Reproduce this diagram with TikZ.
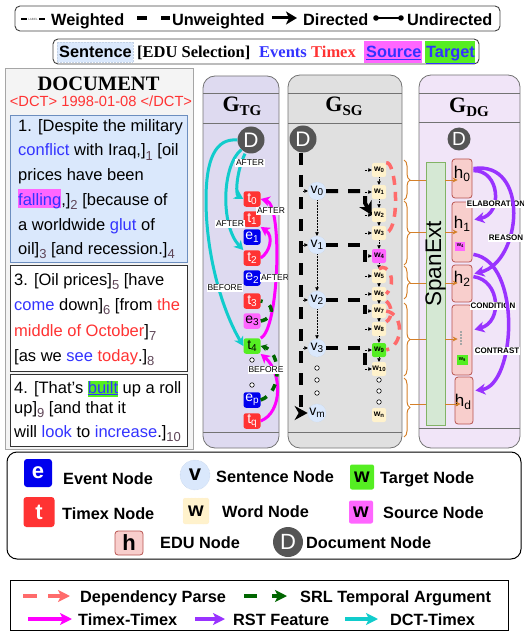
\documentclass[tikz,border=0pt]{standalone}
\usepackage{fontspec}
\setmainfont{Liberation Sans}
\newfontfamily\serifface{Liberation Serif}
\usetikzlibrary{arrows.meta,decorations.pathreplacing,calc}

\definecolor{evblue}{HTML}{3333FF}
\definecolor{txred}{HTML}{FF3333}
\definecolor{subclr}{HTML}{5E4557}
\definecolor{sentbg}{HTML}{DAE8FC}
\definecolor{sentbd}{HTML}{6C8EBF}
\definecolor{srcmag}{HTML}{FF66FF}
\definecolor{tgtgrn}{HTML}{55EE22}
\definecolor{docbg}{HTML}{F4F4F4}
\definecolor{tgbg}{HTML}{DEDAF0}
\definecolor{sgbg}{HTML}{E0E0E0}
\definecolor{dgbg}{HTML}{F1E5F8}
\definecolor{dgray}{HTML}{555555}
\definecolor{tfill}{HTML}{FF3333}
\definecolor{efill}{HTML}{0000EE}
\definecolor{wfill}{HTML}{FFF2CC}
\definecolor{hfill}{HTML}{F8CECC}
\definecolor{hbord}{HTML}{B85450}
\definecolor{spfill}{HTML}{D5E8D4}
\definecolor{spbord}{HTML}{82B366}
\definecolor{brorange}{HTML}{D4802A}
\definecolor{rstpur}{HTML}{9933FF}
\definecolor{dctcyan}{HTML}{11CCCC}
\definecolor{ttmag}{HTML}{FF00FF}
\definecolor{srlgrn}{HTML}{006600}
\definecolor{depred}{HTML}{FF6B6B}

\newcommand\fsz[1]{\fontsize{#1}{#1}\selectfont}
\newcommand\dsub[1]{{\fsz{13}\color{subclr}\raisebox{-4.5pt}{#1}}}
\newcommand\ev[1]{\textcolor{evblue}{#1}}
\newcommand\tx[1]{\textcolor{txred}{#1}}
\newcommand\nsub[1]{\raisebox{-2.5pt}{\fsz{10}#1}}
\newcommand\wsub[1]{\raisebox{-1.5pt}{\fsz{6}#1}}
\newcommand\hsub[1]{\raisebox{-3pt}{\fsz{12}#1}}
\newcommand\gsub[1]{\raisebox{-4pt}{\fsz{15}#1}}
\newcommand\hlbox[2]{{\setlength{\fboxsep}{0pt}\colorbox{#1}{#2}}}

\tikzset{
  txt/.style={inner sep=0pt, anchor=base west},
  doctxt/.style={txt, font=\fsz{16.5}},
  legtxt/.style={txt, font=\fsz{16.3}\bfseries},
  panel/.style={draw=black!55, line width=0.8, rounded corners=12},
  sepline/.style={draw=black!55, line width=0.8},
  tnode/.style={fill=tfill, rounded corners=2.5, minimum width=17, minimum height=15.5, inner sep=0pt, text=white, font=\fsz{14}},
  enode/.style={tnode, fill=efill},
  dnode/.style={circle, fill=dgray, minimum size=27, inner sep=0pt, text=white, font=\fsz{21}},
  vnode/.style={circle, fill=sentbg, draw=sentbd!40, densely dotted, minimum size=18, inner sep=0pt, font=\fsz{14}},
  wnode/.style={fill=wfill, rounded corners=2, minimum width=14, minimum height=14, inner sep=0pt, font=\fsz{8.5}\bfseries},
  hnode/.style={fill=hfill, draw=hbord, line width=0.8, rounded corners=3, minimum width=20, inner sep=0pt},
  dotnode/.style={circle, draw=black, fill=white, line width=0.6, minimum size=4.5, inner sep=0pt},
  rellbl/.style={fill=white, inner sep=1pt, font=\fsz{8.5}},
  rstlbl/.style={fill=white, inner sep=1pt, font=\fsz{8}\bfseries},
  dctarr/.style={draw=dctcyan, line width=3, -{Stealth[length=9pt,width=10pt,inset=2.5pt]}},
  ttarr/.style={draw=ttmag, line width=3, -{Stealth[length=9pt,width=10pt,inset=2.5pt]}},
  srlarr/.style={draw=srlgrn, line width=3.5, dash pattern=on 7pt off 8pt},
  deparc/.style={draw=depred, line width=3.5, dash pattern=on 9pt off 7pt},
  rstarr/.style={draw=rstpur, line width=3.5, -{Stealth[length=10pt,width=11pt,inset=3pt]}},
  bigdash/.style={line width=4, dash pattern=on 12pt off 10pt},
  bigtip/.style={-{Stealth[length=13pt,width=14pt,inset=4pt]}},
  tinyarr/.style={line width=0.5, densely dotted, -{Triangle[length=3.5pt,width=3.5pt]}},
  brc/.style={draw=brorange, line width=1, decorate, decoration={brace, amplitude=6pt}},
  orln/.style={draw=brorange, line width=1},
  legarr/.style={line width=3.5, -{Stealth[length=12pt,width=12pt,inset=3pt]}},
}

\begin{document}
\begin{tikzpicture}[x=1pt, y=-1pt]
\useasboundingbox (0,0) rectangle (524,631);

% ---------- edge-style legend ----------
\draw[rounded corners=5, line width=0.9, draw=black!75] (15,6) rectangle (500,31);
\draw[line width=2.8] (21,19) -- (27,19) (39,19) -- (45,19);
\node[inner sep=0, font=\fsz{3}, text=black!70] (wlab) at (33,19) {LABEL};
\node[legtxt] (lw) at (51,26) {Weighted};
\draw[line width=3.5] (137,18) -- (147,18) (161,18) -- (170,18);
\node[legtxt] (lu) at (172,26) {Unweighted};
\draw[line width=3, -{Stealth[length=11pt,width=13pt,inset=3pt]}] (272,18) -- (297,18);
\node[legtxt] (ld) at (303,26) {Directed};
\draw[line width=2.5] (376,18) -- (401,18);
\fill (376,18) circle (2.8) (401,18) circle (2.8);
\node[legtxt] (lud) at (407,26) {Undirected};

% ---------- text-colour legend ----------
\draw[rounded corners=5, line width=0.9, draw=black!75] (53,39) rectangle (479,64);
\fill[sentbg] (57,42) rectangle (133,62);
\draw[sentbd!40, densely dotted, line width=0.5] (57,42) rectangle (133,62);
\node[legtxt] (ks) at (59,58) {Sentence};
\node[txt, font=\serifface\bfseries\fsz{16.5}] (ke) at (137,58) {[EDU Selection]};
\node[txt, font=\serifface\bfseries\fsz{16.5}, text=evblue] (kev) at (259,58) {Events};
\node[txt, font=\serifface\bfseries\fsz{16.5}, text=txred] (ktx) at (311,58) {Timex};
\fill[srcmag] (364,41) rectangle (422,63);
\fill[tgtgrn] (425,41) rectangle (475,63);
\node[legtxt, text=evblue] (ksrc) at (366,58) {\underline{Source}};
\node[legtxt, text=evblue] (ktgt) at (426,58) {\underline{Target}};

% ---------- document panel ----------
\draw[draw=black!35, fill=docbg, line width=0.8] (5,68) rectangle (193,449);
\node[anchor=base, inner sep=0, font=\serifface\bfseries\fsz{20.5}] (dh) at (98.5,91) {DOCUMENT};
\node[anchor=base, inner sep=0, font=\fsz{14.7}, text=txred] (dct) at (101,106.5) {<DCT> 1998-01-08 </DCT>};
\draw[fill=sentbg, draw=sentbd, line width=0.8] (10,115) rectangle (187,262);
\draw[fill=white, draw=black!80, line width=0.9] (10,265) rectangle (187,371);
\draw[fill=white, draw=black!80, line width=0.9] (10,374) rectangle (187,446);

\node[doctxt] (s1a) at (18,132) {1. [Despite the military};
\node[doctxt] (s1b) at (18,156) {\ev{conflict} with Iraq,]\dsub{1} [oil};
\node[doctxt] (s1c) at (18,181) {prices have been};
\node[doctxt] (s1d) at (18,205) {\hlbox{srcmag}{\rule[-2.5pt]{0pt}{19pt}\ev{falling}},]\dsub{2} [because of};
\node[doctxt] (s1e) at (18,230) {a worldwide \ev{glut} of};
\node[doctxt] (s1f) at (18,254) {oil]\dsub{3} [and recession.]\dsub{4}};

\node[doctxt] (s3a) at (14,285) {3. [Oil prices]\dsub{5} [have};
\node[doctxt] (s3b) at (14,310) {\ev{come} down]\dsub{6} [from \tx{the}};
\node[doctxt] (s3c) at (14,336) {\tx{middle of October}]\dsub{7}};
\node[doctxt] (s3d) at (14,361) {[as we \ev{see} \tx{today}.]\dsub{8}};

\node[doctxt] (s4a) at (14,393) {4. [That's \hlbox{tgtgrn}{\rule[-3.7pt]{0pt}{14pt}\ev{\underline{built}}} up a roll};
\node[doctxt] (s4b) at (14,413) {up]\dsub{9} [and that it};
\node[doctxt] (s4c) at (14,437) {will \ev{look} to \ev{increase}.]\dsub{10}};

% ---------- temporal graph ----------
\draw[panel, fill=tgbg] (203,76) rectangle (279,448);
\draw[sepline] (203,93) -- (279,93) (203,123) -- (279,123) (203,432) -- (279,432);
\node[anchor=base, inner sep=0] (ttg) at (242,112) {\serifface\bfseries\fsz{22}G\gsub{TG}};

\node[dnode] (Dtg) at (251,140) {D};
\node[tnode] (t0) at (252,199) {t\nsub0};
\node[tnode] (t1) at (252,219) {t\nsub1};
\node[enode] (e1) at (252,237) {e\nsub1};
\node[tnode] (t2) at (252,258) {t\nsub2};
\node[enode] (e2) at (252,278) {e\nsub2};
\node[tnode] (t3) at (252,301) {t\nsub3};
\node[enode, fill=srcmag, text=black] (e3) at (252,321) {e\nsub3};
\node[tnode, fill=tgtgrn, text=black] (t4) at (252,346) {t\nsub4};
\node[dotnode] (tgd1) at (252,360) {};
\node[dotnode] (tgd2) at (252,385) {};
\node[enode] (ep) at (252,400) {e\nsub{p}};
\node[tnode] (tq) at (252,421) {t\nsub{q}};

% DCT-Timex links
\draw[dctarr] ($(Dtg.south)+(-6,0)$) .. controls (237,170) and (235,194) .. (t0.west);
\draw[dctarr] (Dtg.south west) .. controls (222,165) and (220,225) .. (t2.north west);
\draw[dctarr] (Dtg.west) .. controls (215,138) and (206,160) .. (206,200) .. controls (206,255) and (222,310) .. (t4.west);
% Timex-Timex links
\draw[ttarr] (t2.east) .. controls (270,252) and (274,236) .. (t1.south east);
\draw[ttarr] (t4.north east) .. controls (279,330) and (283,205) .. (t0.east);
\draw[ttarr] (tq.east) .. controls (283,412) and (282,372) .. (t4.south east);
% SRL temporal arguments
\draw[srlarr] (e3.east) .. controls (276,318) and (274,302) .. (t3.east);
\draw[srlarr, -{Stealth[length=6pt,width=7pt]}] (ep.east) .. controls (283,392) and (281,352) .. (t4.east);

\node[rellbl] (la1) at (250,163) {AFTER};
\node[rellbl] (la2) at (271,211) {AFTER};
\node[rellbl] (la3) at (230,224) {AFTER};
\node[rellbl] (la4) at (275,278) {AFTER};
\node[rellbl] (lb1) at (225,288) {BEFORE};
\node[rellbl] (lb2) at (266,370) {BEFORE};

% ---------- sentence graph ----------
\draw[panel, fill=sgbg] (288,75) rectangle (402,448);
\draw[sepline] (288,93) -- (402,93) (288,123) -- (402,123) (288,432) -- (402,432);
\node[anchor=base, inner sep=0] (tsg) at (344,112) {\serifface\bfseries\fsz{22}G\gsub{SG}};

\node[dnode] (Dsg) at (303,139) {D};
\node[vnode] (v0) at (317,191) {v\nsub0};
\node[vnode] (v1) at (317,245) {v\nsub1};
\node[vnode] (v2) at (317,300) {v\nsub2};
\node[vnode] (v3) at (317,348) {v\nsub3};
\node[dotnode] (vd1) at (317,368) {};
\node[dotnode] (vd2) at (317,380) {};
\node[dotnode] (vd3) at (317,393) {};
\node[vnode] (vm) at (317,413) {v\nsub{m}};

\foreach \i/\y/\c in {0/170/wfill,1/192/wfill,2/215/wfill,3/233/wfill,4/256/srcmag,5/276/wfill,6/294/wfill,7/311/wfill,8/329/wfill,9/350/tgtgrn,10/369/wfill}
  \node[wnode, fill=\c] (w\i) at (379,\y) {w\wsub{\i}};
\node[dotnode] (wd1) at (379,380) {};
\node[dotnode] (wd2) at (379,391) {};
\node[dotnode] (wd3) at (379,402) {};
\node[wnode] (wn) at (379,415) {w\wsub{n}};

\coordinate (trk) at (301,153);
\draw[bigdash, bigtip] (trk) |- (vm.west);
\foreach \v in {v0,v1,v2,v3}
  \draw[tinyarr] ($(\v.west -| trk)+(2,0)$) -- (\v.west);
\draw[tinyarr] (v0) -- (v1);
\draw[tinyarr] (v1) -- (v2);
\draw[tinyarr] (v2) -- (v3);

\coordinate (c0) at (365,203);
\coordinate (c1) at (365,270);
\coordinate (c2) at (365,314);
\coordinate (c3) at (365,370);
\draw[bigdash, bigtip] (v0.east) -| (c0) -- (w2.west);
\draw[bigdash] (v1.east) -| (c1);
\draw[bigdash] (v2.east) -| (c2);
\draw[bigdash] (v3.east) -| (c3);

\foreach \i in {0,...,10}
  \draw[tinyarr] ($(w\i.west)+(-7,0)$) -- (w\i.west);
\foreach \a/\b in {0/1,1/2,2/3,3/4,4/5,5/6,6/7,7/8,8/9,9/10}
  \draw[tinyarr] (w\a) -- (w\b);

% dependency arcs
\draw[deparc] (w0.north east) .. controls (396,160) and (401,228) .. (w3.east);
\draw[deparc] (w5.north) .. controls (388,262) and (398,282) .. (w6.east);
\draw[deparc] (w6.south east) .. controls (392,305) and (393,318) .. (w8.north east);
\draw[deparc] (w7.east) .. controls (404,314) and (404,345) .. (w9.east);

% ---------- EDU braces ----------
\draw[brc] (404,160) -- (404,200);
\draw[brc] (404,201) -- (404,265);
\draw[brc] (404,266) -- (404,299);
\draw[brc] (404,303) -- (404,376);
\draw[brc] (404,378) -- (404,437);

% ---------- discourse graph ----------
\draw[panel, fill=dgbg] (419,75) rectangle (520,448);
\draw[sepline] (419,93) -- (520,93) (419,122) -- (520,122) (419,428) -- (520,428);
\node[anchor=base, inner sep=0] (tdg) at (469,113) {\serifface\bfseries\fsz{22}G\gsub{DG}};
\node[dnode, minimum size=23, font=\fsz{19}] (Ddg) at (459,139) {D};

\node[draw=spbord, fill=spfill, line width=0.8, minimum width=19, minimum height=263, inner sep=0] (span) at (435.5,293.5) {};
\node[rotate=90, inner sep=0, font=\fsz{22.5}] (spantxt) at (435.5,264) {SpanExt};

\node[hnode, minimum height=39] (h0) at (462,178.5) {};
\node[inner sep=0, font=\fsz{17}] (h0t) at (462,174) {h\hsub0};
\node[hnode, minimum height=60] (h1) at (462,232) {};
\node[inner sep=0, font=\fsz{17}] (h1t) at (462,224) {h\hsub1};
\node[fill=srcmag, minimum width=10, minimum height=9, inner sep=0, font=\fsz{5.5}\bfseries] (h1w) at (460,246) {w\raisebox{-1pt}{\fsz{4}4}};
\node[hnode, minimum height=37] (h2) at (462,283.5) {};
\node[inner sep=0, font=\fsz{17}] (h2t) at (462,279) {h\hsub2};
\node[hnode, minimum height=70] (h3) at (462,340) {};
\draw[black!35, line width=1.5, dash pattern=on 1.5pt off 1.5pt] (461,331) -- (461,346);
\node[fill=tgtgrn, minimum width=11, minimum height=10, inner sep=0, font=\fsz{5.5}\bfseries] (h3w) at (462,360) {w\raisebox{-1pt}{\fsz{4}9}};
\node[hnode, minimum width=18, minimum height=47] (hd) at (464,400.5) {};
\node[inner sep=0, font=\fsz{17}] (hdt) at (463,402) {h\hsub{d}};

\foreach \n/\y/\tg in {0/180/h0, 1/232/h1, 2/283/h2, 3/339/h3, 4/404/hd} {
  \coordinate (bt\n) at (410,\y);
  \draw[orln] (bt\n) -- (bt\n -| span.west);
  \draw[orln, -{Stealth[length=5pt,width=5pt]}] (bt\n -| span.east) -- ($(bt\n -| \tg.west)+(6,0)$);
}

% rhetorical relations
\draw[rstarr] ($(h0.north east)+(1,12)$) .. controls (500,170) and (503,214) .. ($(h1.north east)+(2,18)$);
\node[rstlbl] (relab) at (496,204) {ELABORATION};
\draw[rstarr] ($(h0.north east)+(1,10)$) .. controls (530,160) and (522,262) .. ($(h2.north east)+(2,9)$);
\node[rstlbl] (rreas) at (506,238) {REASON};
\draw[rstarr] ($(h2.north east)+(1,12)$) .. controls (500,280) and (503,322) .. ($(h3.north east)+(2,25)$);
\node[rstlbl] (rcond) at (493,306) {CONDITION};
\draw[rstarr] ($(h1.south east)+(1,-8)$) .. controls (522,262) and (516,385) .. ($(hd.east)+(2,-10)$);
\node[rstlbl] (rcont) at (497,351) {CONTRAST};

% ---------- node legend ----------
\draw[rounded corners=10, line width=1] (7,452) rectangle (521,559);
\node[fill=efill, rounded corners=3, minimum size=28, inner sep=0, text=white, font=\fsz{22}\bfseries] (ge) at (38,473) {e};
\node[legtxt] (gel) at (63,484) {Event Node};
\node[circle, fill=sentbg, draw=sentbd!50, densely dotted, minimum size=30, inner sep=0, font=\fsz{22}\bfseries] (gv) at (195,475) {v};
\node[legtxt] (gvl) at (216,482) {Sentence Node};
\node[fill=tgtgrn, rounded corners=2, minimum width=24, minimum height=25, inner sep=0, font=\fsz{20}\bfseries] (gtw) at (362,477) {w};
\node[legtxt] (gtwl) at (380,483) {Target Node};
\node[fill=tfill, rounded corners=3, minimum width=31, minimum height=30, inner sep=0, text=white, font=\fsz{22}\bfseries] (gt) at (39,512) {t};
\node[legtxt] (gtl) at (62,519) {Timex Node};
\node[fill=wfill, draw=wfill!70!orange!40, densely dotted, rounded corners=2, minimum size=26, inner sep=0, font=\fsz{20}\bfseries] (gw) at (196,511) {w};
\node[legtxt] (gwl) at (222,517) {Word Node};
\node[fill=srcmag, rounded corners=2, minimum width=24, minimum height=23, inner sep=0, font=\fsz{20}\bfseries] (gsw) at (361,512) {w};
\node[legtxt] (gswl) at (383,518) {Source Node};
\node[fill=hfill, draw=hbord, line width=0.8, rounded corners=3, minimum width=28, minimum height=24, inner sep=0, font=\fsz{22}\bfseries] (gh) at (129,543) {h};
\node[legtxt] (ghl) at (160,548) {EDU Node};
\node[circle, fill=dgray, minimum size=30, inner sep=0, text=white, font=\fsz{22}] (gd) at (288,542) {D};
\node[legtxt] (gdl) at (306,548) {Document Node};

% ---------- relation legend ----------
\draw[line width=1] (10,580) rectangle (508,630);
\draw[depred, line width=3.5] (23,596) -- (37,596);
\draw[depred, legarr] (48,596) -- (70,596);
\node[legtxt] (rl1) at (80,602) {Dependency Parse};
\draw[srlgrn, line width=3.5] (244,596) -- (257,596);
\draw[srlgrn, legarr] (272,596) -- (287,596);
\node[legtxt] (rl2) at (300,602) {SRL Temporal Argument};
\draw[ttmag, legarr] (28,619) -- (72,619);
\node[legtxt] (rl3) at (78,625) {Timex-Timex};
\draw[rstpur, legarr] (195,619) -- (225,619);
\node[legtxt] (rl4) at (233,625) {RST Feature};
\draw[dctcyan, legarr] (345,619) -- (378,619);
\node[legtxt] (rl5) at (390,625) {DCT-Timex};
\end{tikzpicture}
\end{document}
